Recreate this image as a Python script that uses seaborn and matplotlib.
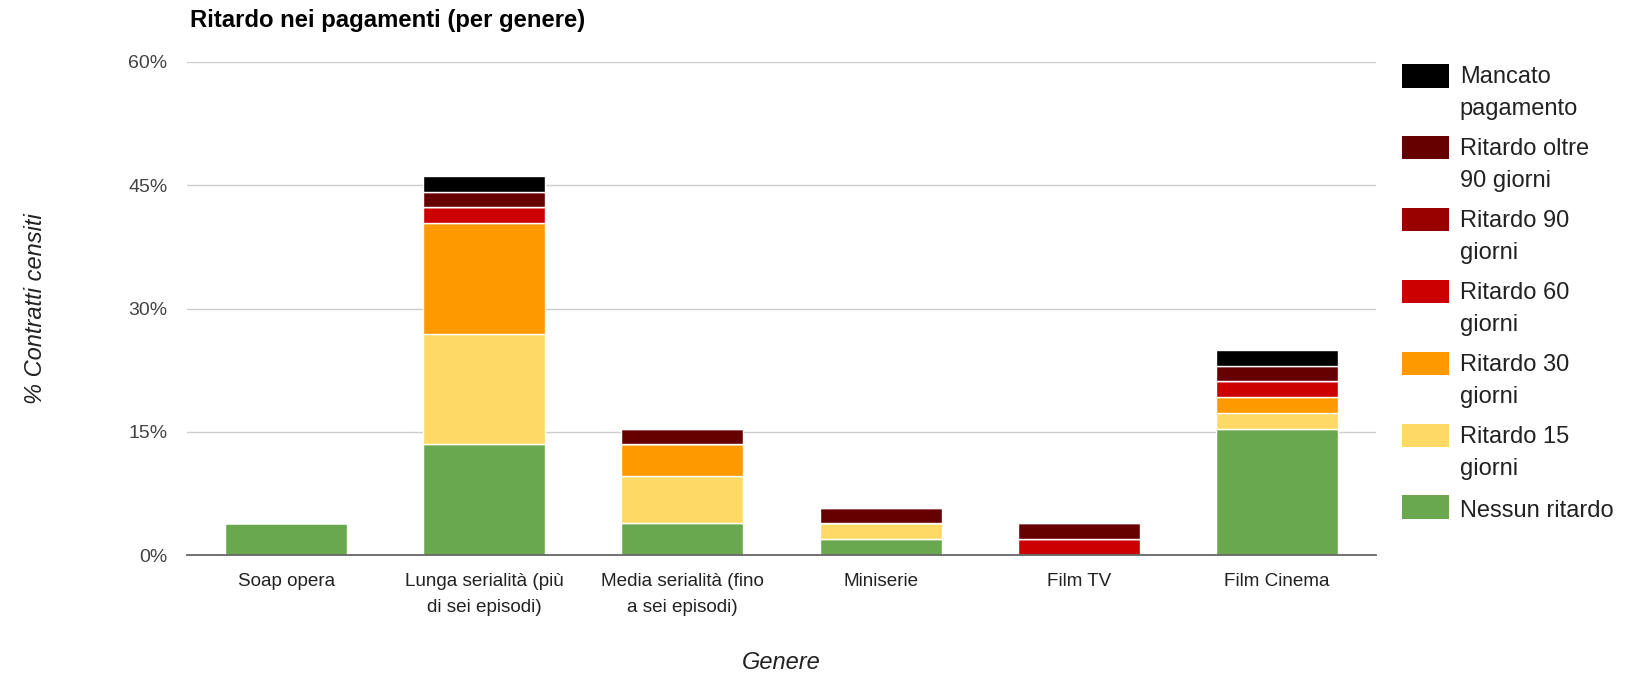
import matplotlib
matplotlib.use("Agg")
import matplotlib.pyplot as plt
import seaborn as sns
import numpy as np
from matplotlib.patches import Patch, Rectangle
from matplotlib.legend_handler import HandlerPatch

# Categorie (genere)
generi = [
    "Soap opera",
    "Lunga serialità (più\ndi sei episodi)",
    "Media serialità (fino\na sei episodi)",
    "Miniserie",
    "Film TV",
    "Film Cinema",
]

# Percentuale di contratti censiti per ciascun tipo di ritardo
nessun_ritardo = [3.85, 13.46, 3.85, 1.92, 0.00, 15.38]
ritardo_15 = [0.00, 13.46, 5.77, 1.92, 0.00, 1.92]
ritardo_30 = [0.00, 13.46, 3.85, 0.00, 0.00, 1.92]
ritardo_60 = [0.00, 1.92, 0.00, 0.00, 1.92, 1.92]
ritardo_90 = [0.00, 0.00, 0.00, 0.00, 0.00, 0.00]
ritardo_oltre_90 = [0.00, 1.92, 1.92, 1.92, 1.92, 1.92]
mancato_pagamento = [0.00, 1.92, 0.00, 0.00, 0.00, 1.92]

serie = [
    ("Nessun ritardo", nessun_ritardo, "#6aa84f"),
    ("Ritardo 15\ngiorni", ritardo_15, "#ffd966"),
    ("Ritardo 30\ngiorni", ritardo_30, "#ff9900"),
    ("Ritardo 60\ngiorni", ritardo_60, "#cc0000"),
    ("Ritardo 90\ngiorni", ritardo_90, "#990000"),
    ("Ritardo oltre\n90 giorni", ritardo_oltre_90, "#660000"),
    ("Mancato\npagamento", mancato_pagamento, "#000000"),
]

y_ticks = [0, 15, 30, 45, 60]
y_tick_labels = ["0%", "15%", "30%", "45%", "60%"]

sns.set_theme(style="white")
plt.rcParams["font.family"] = ["Liberation Sans", "DejaVu Sans"]

W, H = 1632, 673
fig = plt.figure(figsize=(W / 100, H / 100), dpi=100)
ax = fig.add_axes([187 / W, 1 - 555 / H, (1376 - 187) / W, (555 - 62) / H])

# Barre impilate
base = np.zeros(len(generi))
for label, valori, colore in serie:
    sns.barplot(x=generi, y=valori, bottom=base, color=colore, saturation=1,
                width=0.615, edgecolor="white", linewidth=1.0, ax=ax, zorder=3)
    base = base + np.array(valori)

ax.set_xlim(-0.5, len(generi) - 0.5)
ax.set_ylim(0, 60)
ax.set_yticks(y_ticks)
ax.set_yticklabels(y_tick_labels)
ax.yaxis.grid(True, color="#cccccc", linewidth=1.0, zorder=0)
ax.set_axisbelow(True)
for s in ["top", "right", "left"]:
    ax.spines[s].set_visible(False)
ax.spines["bottom"].set_color("#666666")
ax.spines["bottom"].set_linewidth(1.3)
ax.spines["bottom"].set_zorder(5)

ax.tick_params(axis="y", length=0, pad=14, labelsize=14, labelcolor="#444444")
ax.tick_params(axis="x", length=0, pad=13, labelsize=13.6, labelcolor="#222222")
for t in ax.get_xticklabels():
    t.set_linespacing(1.65)

ax.set_xlabel("Genere", fontsize=17, style="italic", color="#222222")
ax.set_ylabel("% Contratti censiti", fontsize=17, style="italic", color="#222222")
ax.xaxis.set_label_coords(0.5, -0.195)
ax.yaxis.set_label_coords(-0.118, 0.5)

fig.text(190 / W, 1 - 20 / H, "Ritardo nei pagamenti (per genere)",
         fontsize=17.2, fontweight="bold", color="#000000", ha="left", va="center")


class FirstLineHandler(HandlerPatch):
    """Swatch aligned with the first line of a wrapped label."""

    def __init__(self, shift, **kw):
        super().__init__(**kw)
        self.shift = shift

    def create_artists(self, legend, orig_handle, xdescent, ydescent,
                       width, height, fontsize, trans):
        p = Rectangle(xy=(-xdescent, -ydescent + self.shift),
                      width=width, height=height)
        self.update_prop(p, orig_handle, legend)
        p.set_transform(trans)
        return [p]


leg_fs = 17
leg_ls = 1.6
handles, labels, hmap = [], [], {}
for label, valori, colore in reversed(serie):
    h = Patch(facecolor=colore, edgecolor="none", label=label)
    nlines = label.count("\n") + 1
    extra = 0.5 * (nlines - 1) * 0.72 * leg_fs * leg_ls
    hmap[h] = FirstLineHandler(shift=extra + 1.5 + (1.5 if nlines > 1 else 0))
    handles.append(h)
    labels.append(label)

leg = fig.legend(handles, labels, handler_map=hmap, loc="upper left",
                 bbox_to_anchor=(1402 / W, 1 - 66 / H), bbox_transform=fig.transFigure,
                 frameon=False, fontsize=leg_fs, borderpad=0, borderaxespad=0,
                 handlelength=2.0, handleheight=1.15, handletextpad=0.45,
                 labelspacing=0.75)
for t in leg.get_texts():
    t.set_linespacing(leg_ls)
    t.set_color("#222222")

fig.savefig("out.png", dpi=100)
